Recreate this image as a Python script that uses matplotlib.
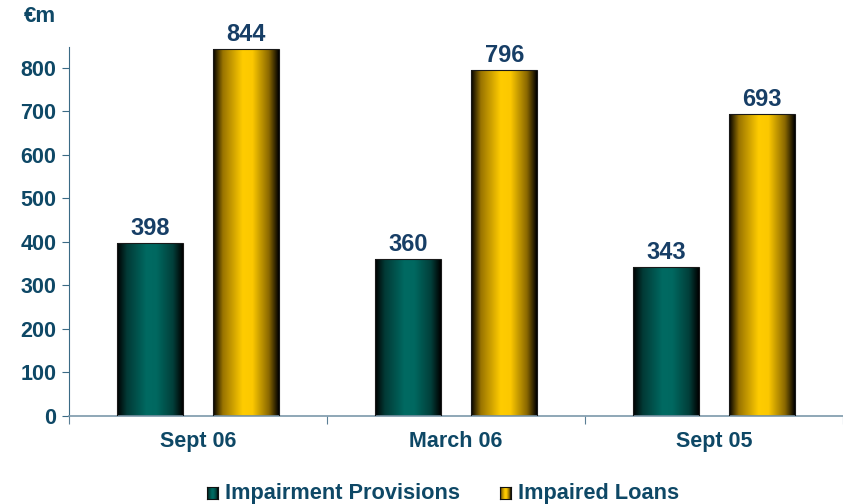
import numpy as np
import matplotlib.pyplot as plt
from matplotlib.colors import LinearSegmentedColormap
from matplotlib.patches import Rectangle

categories = ["Sept 06", "March 06", "Sept 05"]
provisions = [398, 360, 343]
loans = [844, 796, 693]
yticks = [0, 100, 200, 300, 400, 500, 600, 700, 800]

plt.rcParams['font.family'] = ['Liberation Sans', 'DejaVu Sans']
plt.rcParams['font.weight'] = 'bold'
txt = "#0E4866"

teal_cmap = LinearSegmentedColormap.from_list(
    "teal", [(0, "#000000"), (0.15, "#023A36"), (0.45, "#006A62"), (0.6, "#006860"), (0.85, "#023F3A"), (1, "#000000")])
gold_cmap = LinearSegmentedColormap.from_list(
    "gold", [(0, "#000000"), (0.15, "#9A7400"), (0.45, "#FFCC00"), (0.6, "#FCC800"), (0.85, "#8A6800"), (1, "#000000")])

fig = plt.figure(figsize=(8.43, 5.04), dpi=100)
ax = fig.add_axes([69 / 843, 88 / 504, 774 / 843, 369 / 504])

x = np.arange(len(categories))
w = 0.255
off = 0.187
grad = np.linspace(0, 1, 256).reshape(1, -1)


def gradient_bars(xs, vals, cmap):
    for xi, v in zip(xs, vals):
        rect = Rectangle((xi - w / 2, 0), w, v, facecolor="none", edgecolor="#1a1a1a", lw=0.8, zorder=3)
        ax.add_patch(rect)
        im = ax.imshow(grad, cmap=cmap, aspect="auto", extent=(xi - w / 2, xi + w / 2, 0, v), zorder=2)
        im.set_clip_path(rect)
        ax.text(xi, v + 7, str(v), ha="center", va="bottom", fontsize=17, color="#173E66",
                fontweight="bold", clip_on=False)


gradient_bars(x - off, provisions, teal_cmap)
gradient_bars(x + off, loans, gold_cmap)

ax.set_xlim(-0.5, 2.5)
ax.set_ylim(0, 848)
ax.set_yticks(yticks)
ax.set_yticklabels([str(t) for t in yticks], fontsize=15.5, color=txt, fontweight="bold")
ax.set_xticks([-0.5, 0.5, 1.5, 2.5], minor=False)
ax.set_xticklabels([])
ax.set_xticks(x, minor=True)
ax.set_xticklabels(categories, minor=True, fontsize=15.5, color=txt, fontweight="bold")
ax.tick_params(axis="x", which="minor", length=0, pad=11)
ax.tick_params(axis="x", which="major", length=6, color="#5B7F95", direction="out")
ax.tick_params(axis="y", length=5, color="#3A6A85", pad=4)
for s in ["top", "right"]:
    ax.spines[s].set_visible(False)
ax.spines["left"].set_color("#3A6A85")
ax.spines["bottom"].set_color("#7C98AA")
ax.spines["bottom"].set_linewidth(1.2)

fig.text(24 / 843, 1 - 16 / 504, "€m", fontsize=16, color=txt, fontweight="bold", va="center")

# legend
for lx, cmap, label in [(207, teal_cmap, "Impairment Provisions"), (500, gold_cmap, "Impaired Loans")]:
    lax = fig.add_axes([lx / 843, (504 - 499) / 504, 11 / 843, 12 / 504])
    lax.imshow(grad, cmap=cmap, aspect="auto")
    lax.set_xticks([])
    lax.set_yticks([])
    for sp in lax.spines.values():
        sp.set_color("#111111")
    fig.text((lx + 18) / 843, 1 - 493 / 504, label, fontsize=15.7, color=txt, fontweight="bold", va="center")

fig.savefig("out.png", dpi=100)
